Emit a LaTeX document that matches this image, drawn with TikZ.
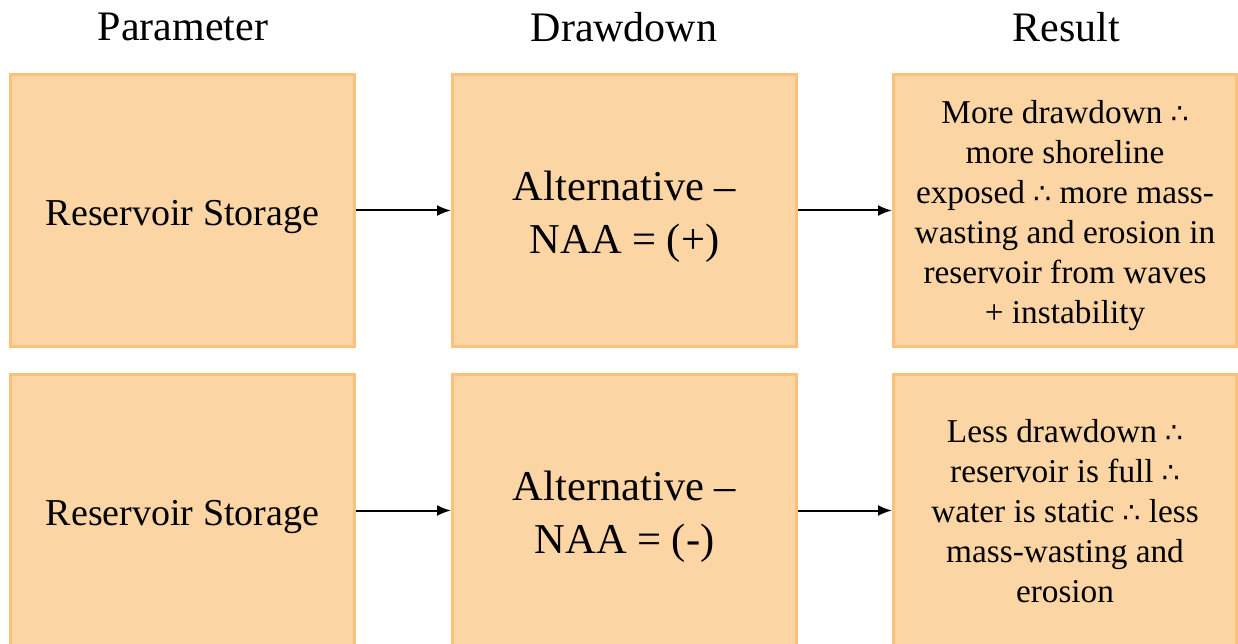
\documentclass[tikz,border=0pt]{standalone}
\usepackage{fontspec}
\setmainfont{Liberation Serif}
\newfontfamily\tnr{Liberation Serif}
\newfontfamily\symfont{DejaVu Sans}
\usetikzlibrary{arrows.meta}
\definecolor{boxfill}{RGB}{252,213,165}
\definecolor{boxline}{RGB}{255,192,122}
\newcommand{\ther}{{\symfont\fontsize{28}{30}\selectfont ∴}}
\tikzset{
  box/.style={draw=boxline, fill=boxfill, line width=3pt, minimum width=344pt, minimum height=272pt, inner sep=0pt},
  txt/.style={inner sep=0pt, align=center},
  head/.style={font=\tnr\fontsize{42}{48}\selectfont},
  conn/.style={-{Latex[length=14pt,width=11pt]}, line width=2pt, black},
}
\begin{document}
\begin{tikzpicture}[x=1pt,y=-1pt]
\useasboundingbox (0,0) rectangle (1238,644);
\clip (0,0) rectangle (1238,644);
\node[head] (h1) at (183,27) {Parameter};
\node[head] (h2) at (624,27) {Drawdown};
\node[head] (h3) at (1066,27) {Result};
\node[box] (p1) at (182.5,210.5) {};
\node[box] (d1) at (624.5,210.5) {};
\node[box, minimum width=343pt] (r1) at (1065,210.5) {};
\node[box] (p2) at (182.5,510.5) {};
\node[box] (d2) at (624.5,510.5) {};
\node[box, minimum width=343pt] (r2) at (1065,510.5) {};
\node[txt, font=\tnr\fontsize{38}{44}\selectfont] (p1t) at ([yshift=-7pt]p1.center) {Reservoir Storage};
\node[txt, font=\tnr\fontsize{42.5}{53}\selectfont] (d1t) at ([yshift=-6pt]d1.center) {Alternative –\\NAA = (+)};
\node[txt, font=\tnr\fontsize{33.3}{40}\selectfont] (r1t) at ([yshift=-5pt]r1.center) {More drawdown \ther\\more shoreline\\exposed \ther{} more mass-\\wasting and erosion in\\reservoir from waves\\+ instability};
\node[txt, font=\tnr\fontsize{38}{44}\selectfont] (p2t) at ([yshift=-7pt]p2.center) {Reservoir Storage};
\node[txt, font=\tnr\fontsize{42.5}{53}\selectfont] (d2t) at ([yshift=-6pt]d2.center) {Alternative –\\NAA = (-)};
\node[txt, font=\tnr\fontsize{33.3}{40}\selectfont] (r2t) at ([yshift=-1pt]r2.center) {Less drawdown \ther\\reservoir is full \ther\\water is static \ther{} less\\mass-wasting and\\erosion};
\draw[conn] (p1) -- (d1);
\draw[conn] (d1) -- (r1);
\draw[conn] (p2) -- (d2);
\draw[conn] (d2) -- (r2);
\end{tikzpicture}
\end{document}
